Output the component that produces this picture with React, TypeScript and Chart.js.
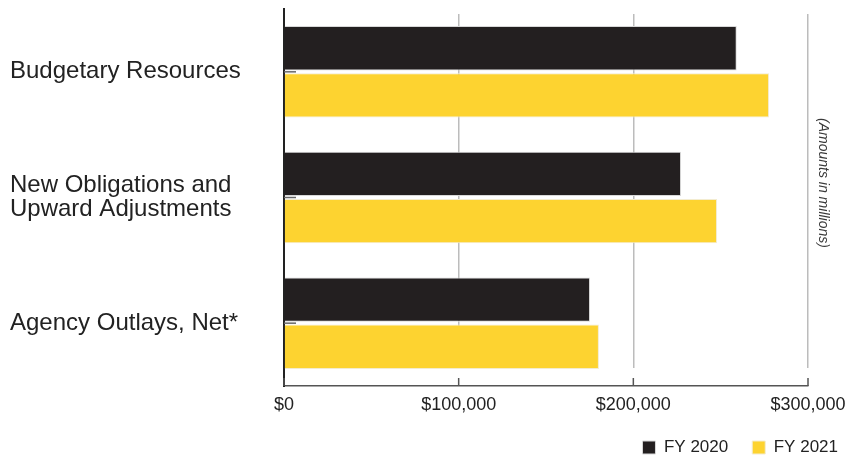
import React, { useEffect, useRef } from "react";
import { Chart, registerables } from "chart.js";

Chart.register(...registerables);

const categories: (string | string[])[] = [
  "Budgetary Resources",
  ["New Obligations and", "Upward Adjustments"],
  "Agency Outlays, Net*",
];
const fy2020 = [259200, 227300, 175200];
const fy2021 = [277700, 247900, 180300];
const seriesLabels = ["FY 2020", "FY 2021"];
const xTicks = [0, 100000, 200000, 300000];
const sideNote = "(Amounts in millions)";

const FONT = "'Liberation Sans', Arial, Helvetica, sans-serif";

const sideNotePlugin = {
  id: "sideNote",
  beforeDatasetsDraw(chart: any) {
    const ctx = chart.ctx;
    const area = chart.chartArea;
    const xs = chart.scales.x;
    ctx.save();
    // gap between gridlines and the axis, and at the top
    ctx.fillStyle = "#fff";
    ctx.fillRect(area.left + 2, area.bottom - 18, area.right - area.left + 4, 17);
    ctx.fillRect(area.left + 2, area.top - 2, area.right - area.left + 4, 7);
    // inward tick marks on the value axis
    ctx.strokeStyle = "#555";
    ctx.lineWidth = 1.5;
    xTicks.forEach((v) => {
      const px = xs.getPixelForValue(v);
      ctx.beginPath();
      ctx.moveTo(px, area.bottom - 8);
      ctx.lineTo(px, area.bottom);
      ctx.stroke();
    });
    ctx.restore();
  },
  afterDatasetsDraw(chart: any) {
    const ctx = chart.ctx;
    const area = chart.chartArea;
    const ys = chart.scales.y;
    ctx.save();
    ctx.strokeStyle = "#666";
    ctx.lineWidth = 1.5;
    categories.forEach((_, i) => {
      const py = ys.getPixelForValue(i);
      ctx.beginPath();
      ctx.moveTo(area.left, py);
      ctx.lineTo(area.left + 12, py);
      ctx.stroke();
    });
    ctx.restore();
  },
  afterDraw(chart: any) {
    const ctx = chart.ctx;
    const area = chart.chartArea;
    ctx.save();
    ctx.translate(area.right + 15, 183);
    ctx.rotate(Math.PI / 2);
    ctx.font = `italic 14px ${FONT}`;
    ctx.fillStyle = "#3a3a3a";
    ctx.textAlign = "center";
    ctx.textBaseline = "middle";
    ctx.fillText(sideNote, 0, 0);
    ctx.restore();
  },
};

export default function App() {
  const ref = useRef<HTMLCanvasElement>(null);
  useEffect(() => {
    if (!ref.current) return;
    const chart = new Chart(ref.current, {
      type: "bar",
      data: {
        labels: categories,
        datasets: [
          {
            label: seriesLabels[0],
            data: fy2020,
            backgroundColor: "#231f20",
            borderColor: "#d8d8d8",
            borderWidth: 1,
            categoryPercentage: 0.75,
            barPercentage: 0.94,
          },
          {
            label: seriesLabels[1],
            data: fy2021,
            backgroundColor: "#fdd330",
            borderColor: "#f3ecd0",
            borderWidth: 1,
            categoryPercentage: 0.75,
            barPercentage: 0.94,
          },
        ],
      },
      options: {
        indexAxis: "y",
        responsive: false,
        animation: false,
        layout: { padding: { left: 10, right: -16, top: 9, bottom: -8 } },
        scales: {
          x: {
            min: 0,
            max: 300000,
            afterBuildTicks(scale: any) {
              scale.ticks = xTicks.map((v) => ({ value: v }));
            },
            afterFit(scale: any) {
              scale.paddingRight = 38;
              scale.height = 29;
            },
            ticks: {
              font: { family: FONT, size: 18 },
              color: "#222",
              padding: 8,
              maxRotation: 0,
              callback: (v: any) => "$" + Number(v).toLocaleString("en-US"),
            },
            grid: {
              color: (c: any) => (c.tick && c.tick.value === 0 ? "rgba(0,0,0,0)" : "#bcbcbc"),
              lineWidth: 1.5,
              drawTicks: false,
            },
            border: { color: "#555", width: 1.5 },
          },
          y: {
            afterFit(scale: any) {
              scale.width = 274;
              scale.paddingTop = 0;
              scale.paddingBottom = 0;
            },
            ticks: {
              font: { family: FONT, size: 24, lineHeight: 1.02 },
              color: "#222",
              crossAlign: "far",
            },
            grid: { display: false },
            border: { color: "#222", width: 2 },
          },
        },
        plugins: {
          legend: {
            position: "bottom",
            align: "end",
            labels: {
              font: { family: FONT, size: 17 },
              color: "#222",
              boxWidth: 13,
              boxHeight: 13,
              padding: 24,
            },
          },
          tooltip: { enabled: false },
        },
      },
      plugins: [sideNotePlugin],
    } as any);
    return () => chart.destroy();
  }, []);
  return (
    <div style={{ position: "fixed", left: 0, top: 0, width: 846, height: 458, background: "#fff" }}>
      <canvas ref={ref} width={846} height={458} />
    </div>
  );
}
